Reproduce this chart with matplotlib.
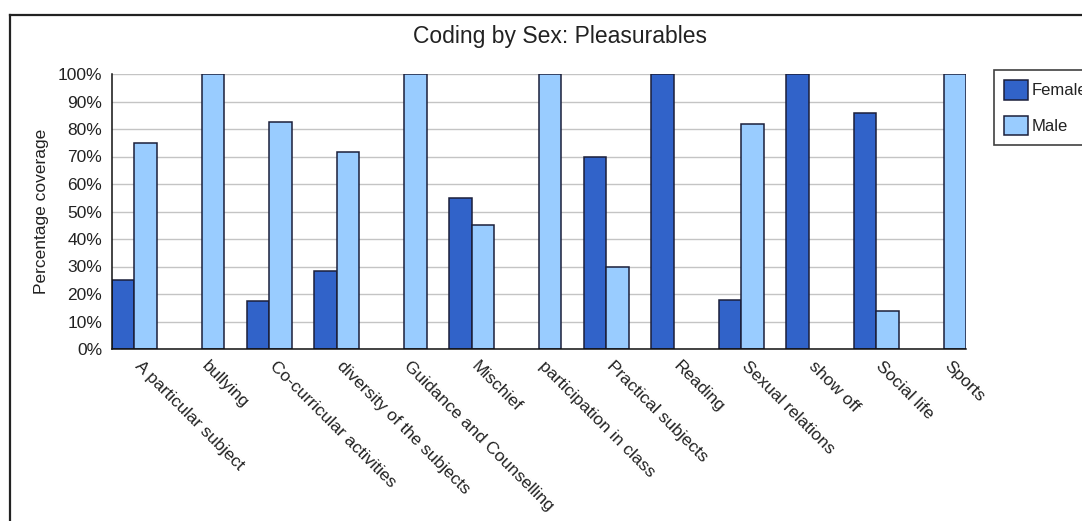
import matplotlib
matplotlib.use("Agg")
import matplotlib.pyplot as plt
import numpy as np
from matplotlib.ticker import PercentFormatter
from matplotlib.lines import Line2D

categories = ["A particular subject", "bullying", "Co-curricular activities",
              "diversity of the subjects", "Guidance and Counselling", "Mischief",
              "participation in class", "Practical subjects", "Reading",
              "Sexual relations", "show off", "Social life", "Sports"]
female = [25, 0, 17.5, 28.5, 0, 55, 0, 70, 100, 18, 100, 86, 0]
male = [75, 100, 82.5, 71.5, 100, 45, 100, 30, 0, 82, 0, 14, 100]
series_names = ["Female", "Male"]
y_ticks = [0, 10, 20, 30, 40, 50, 60, 70, 80, 90, 100]

plt.rcParams['font.family'] = ['Liberation Sans', 'DejaVu Sans']

W, H = 1082, 521
fig = plt.figure(figsize=(W / 100, H / 100), dpi=100)
fig.patch.set_facecolor('white')

ax = fig.add_axes([112 / W, 1 - 349 / H, (966 - 112) / W, (349 - 74) / H])

n = len(categories)
x = np.arange(n)
bw = 1 / 3
edge = '#1b1f3a'
fem_color = '#3163c9'
male_color = '#99ccff'

fem_h = [v if v > 0 else np.nan for v in female]
male_h = [v if v > 0 else np.nan for v in male]

ax.bar(x, fem_h, width=bw, align='edge', color=fem_color, edgecolor=edge,
       linewidth=1.1, label=series_names[0], zorder=3)
ax.bar(x + bw, male_h, width=bw, align='edge', color=male_color, edgecolor=edge,
       linewidth=1.1, label=series_names[1], zorder=3)

ax.set_xlim(0, n - 1 + 2 * bw)
ax.set_ylim(0, 100)
ax.set_yticks(y_ticks)
ax.yaxis.set_major_formatter(PercentFormatter(decimals=0))
ax.grid(axis='y', color='#c4c4c4', linewidth=1.0, zorder=0)
ax.set_axisbelow(True)

for s in ['top', 'right']:
    ax.spines[s].set_visible(False)
for s in ['left', 'bottom']:
    ax.spines[s].set_color('#111111')
    ax.spines[s].set_linewidth(1.1)
    ax.spines[s].set_zorder(4)

ax.tick_params(axis='y', length=0, pad=7, labelsize=12.5, labelcolor='#222222')
ax.set_xticks(x + 0.45)
ax.set_xticklabels(categories, rotation=-45, ha='left', va='top',
                   rotation_mode='anchor', fontsize=12.5, color='#222222')
ax.tick_params(axis='x', length=0, pad=7)

ax.set_ylabel("Percentage coverage", fontsize=12.5, color='#222222', labelpad=6)

fig.text(560 / W, 1 - 36 / H, "Coding by Sex: Pleasurables", ha='center',
         va='center', fontsize=16.5, color='#222222')

leg = fig.legend(loc='upper left', bbox_to_anchor=(994 / W, 1 - 70 / H),
                 borderaxespad=0, frameon=True, fancybox=False, fontsize=12,
                 handlelength=1.44, handleheight=1.44, handletextpad=0.2,
                 labelspacing=0.95, borderpad=0.6)
leg.get_frame().set_edgecolor('#111111')
leg.get_frame().set_linewidth(1.2)
for t in leg.get_texts():
    t.set_color('#222222')

# outer chart border (extends beyond figure on right/bottom)
fig.add_artist(Line2D([10 / W, 10 / W], [0, 1 - 15 / H], transform=fig.transFigure,
                      color='#222222', linewidth=1.6))
fig.add_artist(Line2D([10 / W, 1], [1 - 15 / H, 1 - 15 / H], transform=fig.transFigure,
                      color='#222222', linewidth=1.6))

fig.savefig("out.png", dpi=100)
